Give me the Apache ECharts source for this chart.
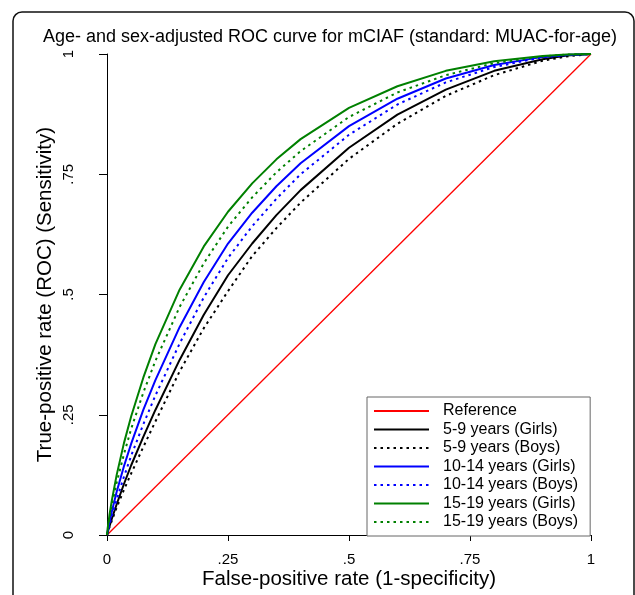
<!DOCTYPE html>
<html>
<head>
<meta charset="utf-8">
<title>ROC curve</title>
<script src="https://cdn.jsdelivr.net/npm/echarts@6/dist/echarts.min.js"></script>
<style>
    html, body { margin: 0; padding: 0; background: #fff; }
    #main { width: 635px; height: 595px; }
</style>
</head>
<body>
<div id="main"></div>
<script>
// false-positive rate (x) points the curves were read at
var fpr = [0, 0.002, 0.005, 0.01, 0.02, 0.035, 0.05, 0.075, 0.1, 0.15, 0.2, 0.25, 0.3, 0.35, 0.4, 0.5, 0.6, 0.7, 0.8, 0.9, 0.95, 1];

// true-positive rate for each group
var girls5to9 = [0, 0.008, 0.018, 0.034, 0.064, 0.106, 0.145, 0.204, 0.260, 0.364, 0.458, 0.540, 0.606, 0.665, 0.717, 0.805, 0.874, 0.926, 0.965, 0.989, 0.997, 1];
var boys5to9 = [0, 0.007, 0.016, 0.030, 0.057, 0.094, 0.128, 0.183, 0.236, 0.340, 0.430, 0.507, 0.580, 0.638, 0.691, 0.782, 0.855, 0.913, 0.956, 0.986, 0.995, 1];
var girls10to14 = [0, 0.012, 0.027, 0.049, 0.090, 0.143, 0.190, 0.260, 0.322, 0.432, 0.526, 0.606, 0.670, 0.725, 0.773, 0.850, 0.907, 0.949, 0.977, 0.994, 0.998, 1];
var boys10to14 = [0, 0.009, 0.021, 0.040, 0.074, 0.121, 0.165, 0.230, 0.290, 0.398, 0.494, 0.576, 0.642, 0.699, 0.750, 0.832, 0.895, 0.941, 0.973, 0.993, 0.998, 1];
var girls15to19 = [0, 0.019, 0.041, 0.072, 0.125, 0.191, 0.247, 0.327, 0.397, 0.510, 0.600, 0.672, 0.731, 0.781, 0.823, 0.888, 0.933, 0.965, 0.985, 0.996, 0.999, 1];
var boys15to19 = [0, 0.016, 0.035, 0.062, 0.109, 0.168, 0.221, 0.296, 0.362, 0.474, 0.565, 0.641, 0.702, 0.754, 0.798, 0.869, 0.920, 0.956, 0.981, 0.995, 0.999, 1];

// reference diagonal
var refX = [0, 1];
var refY = [0, 1];

// axis tick labels (stata style, no leading zero)
var tickLabels = { '0': '0', '0.25': '.25', '0.5': '.5', '0.75': '.75', '1': '1' };

var font = '"Liberation Sans", Arial, sans-serif';

(function() {
    var myechart = echarts.init(document.getElementById('main'));

    // zip x and y into [x, y] pairs
    var pairs = function(xs, ys) {
        var out = [];
        for (var i = 0; i < xs.length; i++) {
            out.push([xs[i], ys[i]]);
        }
        return out;
    };

    var dotted = [2.5, 4];

    // one line series
    var curve = function(name, ys, color, type, width) {
        return {
            name: name,
            type: 'line',
            data: pairs(fpr, ys),
            showSymbol: false,
            symbol: 'none',
            smooth: false,
            lineStyle: { color: color, width: width || 2, type: type },
            itemStyle: { color: color },
            silent: true
        };
    };

    var option = {
        animation: false,
        textStyle: { fontFamily: font },
        title: {
            text: 'Age- and sex-adjusted ROC curve for mCIAF (standard: MUAC-for-age)',
            left: 325,
            textAlign: 'center',
            top: 23,
            textStyle: { fontFamily: font, fontSize: 18, fontWeight: 'normal', color: '#000' }
        },
        graphic: [{
            // outer rounded frame of the graph
            type: 'rect',
            shape: { x: 13, y: 12, width: 621, height: 640, r: 9 },
            style: { fill: 'none', stroke: '#111', lineWidth: 1.5 },
            silent: true
        }],
        legend: {
            orient: 'vertical',
            left: 367,
            top: 397,
            padding: [6, 12, 6, 6],
            itemWidth: 55,
            itemHeight: 12,
            itemGap: 2.5,
            backgroundColor: '#fff',
            borderColor: '#666',
            borderWidth: 1,
            borderRadius: 0,
            selectedMode: false,
            itemStyle: { opacity: 0 },
            textStyle: { fontFamily: font, fontSize: 16, lineHeight: 16, color: '#000', padding: [0, 0, 0, 9] },
            data: ['Reference', '5-9 years (Girls)', '5-9 years (Boys)', '10-14 years (Girls)',
                '10-14 years (Boys)', '15-19 years (Girls)', '15-19 years (Boys)']
        },
        grid: {
            left: 107,
            top: 54,
            width: 484,
            height: 482
        },
        xAxis: {
            type: 'value',
            min: 0,
            max: 1,
            interval: 0.25,
            offset: 5,
            name: 'False-positive rate (1-specificity)',
            nameLocation: 'middle',
            nameGap: 29,
            nameMoveOverlap: false,
            nameTextStyle: { fontFamily: font, fontSize: 20.5, color: '#000' },
            axisLine: { show: true, lineStyle: { color: '#000', width: 1 } },
            axisTick: { show: true, length: 6, lineStyle: { color: '#000' } },
            axisLabel: {
                margin: 12,
                fontFamily: font,
                fontSize: 15,
                color: '#000',
                formatter: function(v) { return tickLabels[String(v)]; }
            },
            splitLine: { show: false }
        },
        yAxis: {
            type: 'value',
            min: 0,
            max: 1,
            interval: 0.25,
            offset: 20,
            name: 'True-positive rate (ROC) (Sensitivity)',
            nameLocation: 'middle',
            nameGap: 31,
            nameMoveOverlap: false,
            nameTextStyle: { fontFamily: font, fontSize: 20.5, color: '#000' },
            axisLine: { show: true, lineStyle: { color: '#000', width: 1 } },
            axisTick: { show: true, length: 8, lineStyle: { color: '#000' } },
            axisLabel: {
                rotate: 90,
                margin: 11,
                fontFamily: font,
                fontSize: 15,
                color: '#000',
                formatter: function(v) { return tickLabels[String(v)]; }
            },
            splitLine: { show: false }
        },
        series: [
            {
                name: 'Reference',
                type: 'line',
                data: pairs(refX, refY),
                showSymbol: false,
                symbol: 'none',
                lineStyle: { color: '#ff0000', width: 1.3 },
                itemStyle: { color: '#ff0000' },
                silent: true
            },
            curve('5-9 years (Girls)', girls5to9, '#000000', 'solid'),
            curve('5-9 years (Boys)', boys5to9, '#000000', dotted),
            curve('10-14 years (Girls)', girls10to14, '#0000ff', 'solid'),
            curve('10-14 years (Boys)', boys10to14, '#0000ff', dotted),
            curve('15-19 years (Girls)', girls15to19, '#008000', 'solid'),
            curve('15-19 years (Boys)', boys15to19, '#008000', dotted)
        ]
    };
    myechart.setOption(option);
})();
</script>
</body>
</html>
